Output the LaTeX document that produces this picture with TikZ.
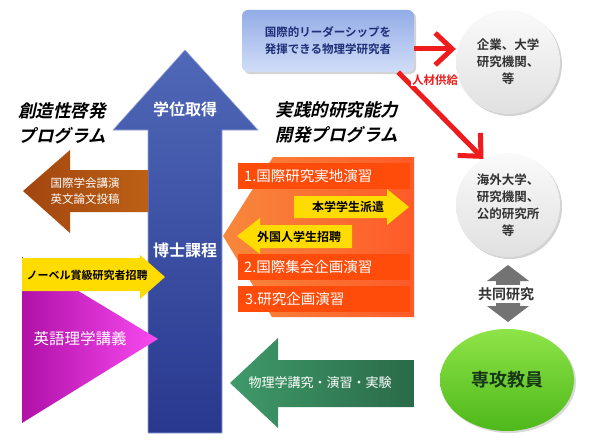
\documentclass[tikz,border=0pt]{standalone}
\usepackage{fontspec}
\setmainfont{Noto Sans CJK JP}[BoldFont={Noto Sans CJK JP Bold}]
\newfontfamily\slantjp{Noto Sans CJK JP Bold}[FakeSlant=0.22]
\usetikzlibrary{arrows.meta,calc,shapes.geometric,shadows}

\definecolor{phdtop}{HTML}{5068B8}
\definecolor{phdbot}{HTML}{28388E}
\definecolor{brownl}{HTML}{A24610}
\definecolor{brownr}{HTML}{BC6016}
\definecolor{magl}{HTML}{B010A8}
\definecolor{magr}{HTML}{F84AF0}
\definecolor{jaune}{HTML}{FFDC00}
\definecolor{orangel}{HTML}{F7883C}
\definecolor{oranger}{HTML}{FF5A28}
\definecolor{barred}{HTML}{FF4C0A}
\definecolor{greenl}{HTML}{3F9A6A}
\definecolor{greenr}{HTML}{2A6A48}
\definecolor{boxtop}{HTML}{92ACE6}
\definecolor{boxbot}{HTML}{D2DEF8}
\definecolor{boxtxt}{HTML}{1E2E78}
\definecolor{supred}{HTML}{EE1C1C}
\definecolor{darktxt}{HTML}{333333}
\definecolor{limel}{HTML}{8EE448}
\definecolor{limed}{HTML}{4EB81A}

\begin{document}
\begin{tikzpicture}[x=1pt,y=-1pt,
  txt/.style={inner sep=0pt, align=center},
  bigtitle/.style={txt, font=\fontsize{17.5}{25}\selectfont\slantjp},
  whitebig/.style={txt, text=white, font=\fontsize{16}{19}\selectfont\bfseries},
  ylabel/.style={txt, font=\fontsize{12}{14}\selectfont\bfseries},
  bar/.style={fill=barred, text=white, anchor=north west, minimum height=26,
    text width=160, inner xsep=6, inner ysep=0pt, align=left,
    font=\fontsize{14.5}{16}\selectfont},
  place/.style={circle, minimum size=104, inner sep=0pt, align=center,
    top color=gray!4, bottom color=gray!24, text=darktxt,
    font=\fontsize{12.5}{17}\selectfont\bfseries,
    drop shadow={shadow xshift=2pt, shadow yshift=-2pt, opacity=0.35}},
  supply/.style={draw=supred, line width=5pt,
    -{Straight Barb[length=17pt, width=32pt]}}]

\useasboundingbox (0,0) rectangle (591,444);

% doctoral course arrow
\path[top color=phdtop, bottom color=phdbot, draw=phdtop!60!white, line width=0.6pt]
  (185,50) -- (258,130) -- (222,130) -- (222,433) -- (148,433) -- (148,130)
  -- (113,130) -- cycle;
\node[whitebig] (degree) at (185,109) {学位取得};
\node[whitebig] (phd) at (185,250) {博士課程};

% left program
\node[bigtitle] (creat) at (62,123) {創造性啓発\\プログラム};
\path[left color=brownl, right color=brownr]
  (23,191) -- (70,150) -- (70,170) -- (148,170) -- (148,212) -- (70,212)
  -- (70,233) -- cycle;
\node[txt, text=white, font=\fontsize{11.5}{16}\selectfont] (talk) at (85,191)
  {国際学会講演\\英文論文投稿};
\path[left color=magl, right color=magr] (22,257) -- (158,339) -- (22,423) -- cycle;
\node[txt, text=white, font=\fontsize{15.5}{18}\selectfont] (english) at (80,339)
  {英語理学講義};
\path[fill=jaune] (22,258) -- (140,258) -- (140,255) -- (165,277) -- (140,299)
  -- (140,291) -- (22,291) -- cycle;
\node[ylabel, font=\fontsize{11}{13}\selectfont\bfseries] (nobel) at (87,275)
  {ノーベル賞級研究者招聘};

% right program
\node[bigtitle, align=left] (pract) at (337,122) {実践的研究能力\\開発プログラム};
\path[left color=orangel, right color=oranger]
  (273,157) -- (414,157) -- (414,317) -- (272,317) -- (223,236) -- cycle;
\node[bar] (ex1) at (238,163) {1.国際研究実地演習};
\node[bar] (ex2) at (238,254) {2.国際集会企画演習};
\node[bar] (ex3) at (238,286) {\hspace{1pt}3.研究企画演習};
\path[fill=jaune] (294,196) -- (387,196) -- (387,189) -- (409,207) -- (387,225)
  -- (387,218) -- (294,218) -- cycle;
\node[ylabel] (send) at (348,207) {本学学生派遣};
\path[fill=jaune] (237,236) -- (260,218) -- (260,225) -- (352,225) -- (352,248)
  -- (260,248) -- (260,254) -- cycle;
\node[ylabel] (invite) at (299,237) {外国人学生招聘};

\path[left color=greenl, right color=greenr]
  (230,383) -- (278,338) -- (278,360) -- (414,360) -- (414,407) -- (278,407)
  -- (278,428) -- cycle;
\node[txt, text=white, font=\fontsize{13}{15}\selectfont] (lect) at (320,383)
  {物理学講究・演習・実験};

% outcome and partners
\node[rounded corners=6, minimum width=172, minimum height=62, inner sep=0pt,
  top color=boxtop, bottom color=boxbot, text=boxtxt, align=center,
  font=\fontsize{11.5}{17}\selectfont\bfseries,
  drop shadow={shadow xshift=2pt, shadow yshift=-2pt, opacity=0.35}]
  (leader) at (328,41) {国際的リーダーシップを\\発揮できる物理学研究者};
\node[place] (corp) at (508,62) {企業、大学\\研究機関、\\等};
\node[place] (abroad) at (508,205) {海外大学、\\研究機関、\\公的研究所\\等};
\node[ellipse, minimum width=134, minimum height=102, inner sep=0pt,
  top color=limel, bottom color=limed, text=darktxt!80!green!60!black,
  font=\fontsize{18}{20}\selectfont\bfseries,
  drop shadow={shadow xshift=2pt, shadow yshift=-2pt, opacity=0.3}]
  (staff) at (507,380) {専攻教員};

\path[fill=black!55] (508,265) -- (529,281) -- (520,281) -- (520,306) -- (529,306)
  -- (508,322) -- (487,306) -- (496,306) -- (496,281) -- (487,281) -- cycle;
\node[txt, fill=white, inner xsep=1pt, inner ysep=2pt, text=darktxt,
  font=\fontsize{14}{16}\selectfont\bfseries] (joint) at (506,294) {共同研究};

% supply arrows
\coordinate (sup1) at ($(leader.east)+(0,8)$);
\coordinate (sup2) at ($(leader.south east)+(-16,0)$);
\draw[supply] (sup1) -- (corp.west |- sup1);
\draw[supply] (sup2) -- (abroad.118);
\node[txt, fill=white, inner sep=1pt, text=supred,
  font=\fontsize{11.5}{13}\selectfont\bfseries] (supl) at (435,80) {人材供給};

\end{tikzpicture}
\end{document}
